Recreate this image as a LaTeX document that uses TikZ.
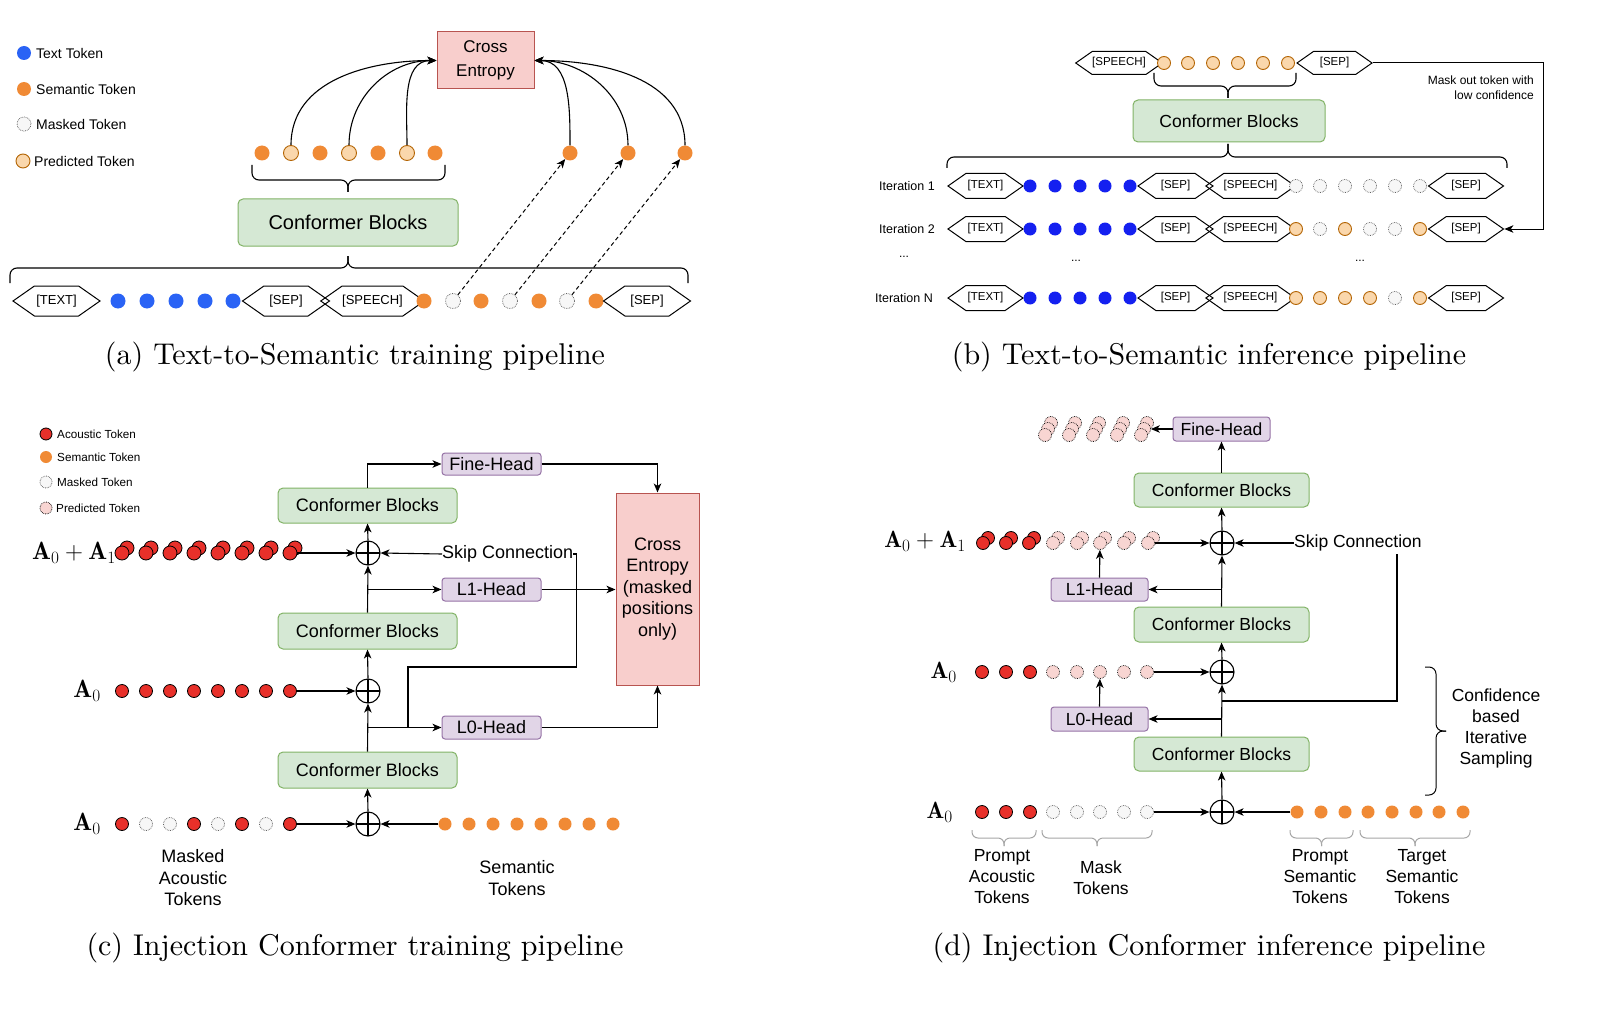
\documentclass[tikz,border=0pt]{standalone}
\usepackage{fontspec}
\newfontfamily\sff{Liberation Sans}
\newfontfamily\capfont{lmroman10-regular.otf}
\usetikzlibrary{arrows.meta,shapes.symbols}
\definecolor{cbfill}{HTML}{D5E8D4}
\definecolor{cbdraw}{HTML}{82B366}
\definecolor{cefill}{HTML}{F8CECC}
\definecolor{cedraw}{HTML}{B85450}
\definecolor{hdfill}{HTML}{E1D5E7}
\definecolor{hddraw}{HTML}{9673A6}
\definecolor{semor}{HTML}{F08A35}
\definecolor{predfill}{HTML}{FAD7AC}
\definecolor{preddraw}{HTML}{B46504}
\definecolor{blueA}{HTML}{2A63F5}
\definecolor{blueB}{HTML}{1420F0}
\definecolor{acred}{HTML}{E8302A}
\definecolor{pinkfill}{HTML}{F8D5D2}
\definecolor{maskfill}{HTML}{F7F7F7}
\definecolor{maskdraw}{HTML}{555555}
\definecolor{bracegray}{HTML}{A6A6A6}
\def\toksz{14pt}
\tikzset{
  fs/.style 2 args={font=\sff\fontsize{#1}{#2}\selectfont},
  ln/.style={line width=1.1pt},
  arr/.style={ln,-{Stealth[length=9pt,width=7.5pt,inset=2.5pt]}},
  tokbase/.style={circle,inner sep=0pt,minimum size=\toksz},
  TS/.style={tokbase,fill=semor},
  TP/.style={tokbase,fill=predfill,draw=preddraw,line width=0.9pt},
  TM/.style={tokbase,fill=maskfill,draw=maskdraw,densely dotted,line width=0.7pt},
  TB/.style={tokbase,fill=blueA},
  TBB/.style={tokbase,fill=blueB},
  TR/.style={tokbase,fill=acred,draw=black,line width=0.8pt},
  TK/.style={tokbase,fill=pinkfill,draw=black,densely dotted,line width=0.7pt},
  cblock/.style={draw=cbdraw,fill=cbfill,rounded corners=5pt,line width=1pt,inner sep=0pt},
  cebox/.style={draw=cedraw,fill=cefill,line width=1pt,inner sep=0pt,align=center},
  head/.style={draw=hddraw,fill=hdfill,rounded corners=3pt,line width=1pt,inner sep=0pt},
  hexbase/.style={signal,signal to=west and east,signal pointer angle=70,draw,line width=1pt,inner sep=0pt},
  hexA/.style={hexbase,minimum width=87pt,minimum height=30pt,fs={13}{15}},
  hexB/.style={hexbase,minimum width=75pt,minimum height=25pt,fs={11.5}{13}},
  oplus/.style={circle,draw,line width=1.1pt,minimum size=24pt,inner sep=0pt,
    path picture={\draw[line width=1.1pt] (path picture bounding box.north)--(path picture bounding box.south) (path picture bounding box.west)--(path picture bounding box.east);}},
  brc/.style={line width=1.1pt,rounded corners=7pt},
  captxt/.style={font=\capfont\fontsize{30}{36}\selectfont,inner sep=0pt},
}
\newcommand\bRow[3]{%
  \node[hexB] (#2T) at (985.5,#1) {[TEXT]};
  \foreach \x in {1030,1055,1080,1105,1130} \node[TBB] at (\x,#1) {};
  \node[hexB] (#2S) at (1175.5,#1) {[SEP]};
  \node[hexB] (#2P) at (1250.5,#1) {[SPEECH]};
  \foreach \x/\t in {#3} \node[\t] at (\x,#1) {};
  \node[hexB] (#2E) at (1466,#1) {[SEP]};
}
\begin{document}
\begin{tikzpicture}[x=1pt,y=-1pt]
\useasboundingbox[fill=white] (0,0) rectangle (1600,1011);

% ================= (a) =================
\def\toksz{14pt}
\node[TB] (lga1) at (24,53) {};
\node[fs={14}{16},anchor=west,inner sep=0pt] at (36,53) {Text Token};
\node[TS] (lga2) at (24,89) {};
\node[fs={14}{16},anchor=west,inner sep=0pt] at (36,89) {Semantic Token};
\node[TM] (lga3) at (24,124) {};
\node[fs={14}{16},anchor=west,inner sep=0pt] at (36,124) {Masked Token};
\node[TP] (lga4) at (23,161) {};
\node[fs={14}{16},anchor=west,inner sep=0pt] at (34,161) {Predicted Token};

\node[cebox,minimum width=97pt,minimum height=57pt,fs={17}{24}] (ace) at (485.5,60.5) {Cross\\Entropy};
\def\toksz{15pt}
\foreach \x/\t/\n in {262/TS/1,291/TP/2,320/TS/3,349/TP/4,378/TS/5,407/TP/6,435/TS/7}
  \node[\t] (at\n) at (\x,153) {};
\node[TS] (ar1) at (570,153) {};
\node[TS] (ar2) at (628,153) {};
\node[TS] (ar3) at (685,153) {};
\foreach \n in {2,4,6} \draw[arr] (at\n) to[out=90,in=180] (ace.west);
\foreach \n in {1,2,3} \draw[arr] (ar\n) to[out=90,in=0] (ace.east);

\draw[brc] (252,165) -- (252,180) -- (348,180) -- (348,192);
\draw[brc] (445,165) -- (445,180) -- (348,180) -- (348,192);
\node[cblock,minimum width=220pt,minimum height=47pt,fs={20}{24}] (acb) at (348,222.5) {Conformer Blocks};
\draw[brc] (10,283) -- (10,268) -- (348,268) -- (348,256);
\draw[brc] (688,283) -- (688,268) -- (348,268) -- (348,256);

\node[hexA] (aT) at (56.5,301) {[TEXT]};
\foreach \x in {118,147,176,205,233} \node[TB] at (\x,301) {};
\node[hexA] (aS1) at (286,301) {[SEP]};
\node[hexA] (aSp) at (372.5,301) {[SPEECH]};
\foreach \x/\t/\n in {424/TS/1,453/TM/2,481/TS/3,510/TM/4,539/TS/5,567/TM/6,596/TS/7}
  \node[\t] (ab\n) at (\x,301) {};
\node[hexA] (aS2) at (647,301) {[SEP]};
\draw[arr,line width=1pt,dash pattern=on 4pt off 3pt] (ab2) -- (ar1);
\draw[arr,line width=1pt,dash pattern=on 4pt off 3pt] (ab4) -- (ar2);
\draw[arr,line width=1pt,dash pattern=on 4pt off 3pt] (ab6) -- (ar3);
\node[captxt] (capa) at (355,357) {(a) Text-to-Semantic training pipeline};

% ================= (b) =================
\def\toksz{13pt}
\node[hexB,minimum height=23pt] (bSp) at (1119,63) {[SPEECH]};
\foreach \x [count=\i] in {1164,1188,1213,1238,1263,1288} \node[TP] (bp\i) at (\x,63) {};
\node[hexB,minimum height=23pt] (bSe) at (1334.5,63) {[SEP]};
\node[fs={12}{15},align=right,anchor=east,inner sep=0pt] (bmask) at (1534,87.5) {Mask out token with\\low confidence};
\draw[brc] (1154,73) -- (1154,86) -- (1228,86) -- (1228,98);
\draw[brc] (1296,73) -- (1296,86) -- (1228,86) -- (1228,98);
\node[cblock,minimum width=192pt,minimum height=42pt,fs={17.5}{21}] (bcb) at (1229,121) {Conformer Blocks};
\draw[brc] (947,168) -- (947,157) -- (1228,157) -- (1228,144);
\draw[brc] (1507,168) -- (1507,157) -- (1228,157) -- (1228,144);

\node[fs={12.5}{15},anchor=east,inner sep=0pt] (bl1) at (935,186) {Iteration 1};
\node[fs={12.5}{15},anchor=east,inner sep=0pt] (bl2) at (935,229) {Iteration 2};
\node[fs={12.5}{15},anchor=east,inner sep=0pt] (blN) at (933,298) {Iteration N};
\node[fs={12}{15},inner sep=0pt] at (904,257) {...};
\node[fs={12}{15},inner sep=0pt] at (1076,261) {...};
\node[fs={12}{15},inner sep=0pt] at (1360,261) {...};
\bRow{186}{bia}{1296/TM,1320/TM,1345/TM,1370/TM,1395/TM,1420/TM}
\bRow{229}{bib}{1296/TP,1320/TM,1345/TP,1370/TM,1395/TM,1420/TP}
\bRow{298}{bin}{1296/TP,1320/TP,1345/TP,1370/TP,1395/TM,1420/TP}
\coordinate (bturn) at (1543,229);
\draw[arr,line width=1pt] (bSe.east) -| (bturn) -- (bibE.east);
\node[captxt] (capb) at (1209,357) {(b) Text-to-Semantic inference pipeline};

% ================= (c) =================
\def\toksz{12pt}
\node[TR] (lgc1) at (46,434) {};
\node[fs={11.7}{14},anchor=west,inner sep=0pt] at (57,434) {Acoustic Token};
\node[TS] (lgc2) at (46,457) {};
\node[fs={11.7}{14},anchor=west,inner sep=0pt] at (57,457) {Semantic Token};
\node[TM] (lgc3) at (46,482) {};
\node[fs={11.7}{14},anchor=west,inner sep=0pt] at (57,482) {Masked Token};
\node[TK] (lgc4) at (46,508) {};
\node[fs={11.7}{14},anchor=west,inner sep=0pt] at (56,508) {Predicted Token};

\node[head,minimum width=99pt,minimum height=22pt,fs={18}{21}] (cfh) at (491.5,464) {Fine-Head};
\node[cblock,minimum width=179pt,minimum height=35pt,fs={18}{21}] (ccb1) at (367.5,505.5) {Conformer Blocks};
\node[cebox,minimum width=83pt,minimum height=192pt,fs={18}{21.5}] (cce) at (657.5,589) {Cross\\Entropy\\(masked\\positions\\only)};
\node[oplus] (cop1) at (368,553) {};
\node[font=\fontsize{25}{30}\selectfont,anchor=east,inner sep=0pt] (clab1) at (116,553) {$\mathbf{A}_0+\mathbf{A}_1$};
\def\toksz{14pt}
\foreach \x [count=\i] in {124,148,172,196,220,244,268,292} {
  \node[TR] at (\x+3,548) {};
  \node[TR] (c1\i) at (\x-2,553) {};
}
\node[fs={18}{21},anchor=west,inner sep=0pt] (cskip) at (442,554) {Skip Connection};
\node[head,minimum width=99pt,minimum height=23pt,fs={18}{21}] (cl1) at (491.5,589.5) {L1-Head};
\node[cblock,minimum width=179pt,minimum height=36pt,fs={18}{21}] (ccb2) at (367.5,631) {Conformer Blocks};
\node[oplus] (cop2) at (368,691) {};
\node[font=\fontsize{25}{30}\selectfont,anchor=east,inner sep=0pt] (clab2) at (101,691) {$\mathbf{A}_0$};
\def\toksz{13pt}
\foreach \x [count=\i] in {122,146,170,194,218,242,266,290} \node[TR] (c2\i) at (\x,691) {};
\node[head,minimum width=99pt,minimum height=23pt,fs={18}{21}] (cl0) at (491.5,727.5) {L0-Head};
\node[cblock,minimum width=179pt,minimum height=36pt,fs={18}{21}] (ccb3) at (367.5,770) {Conformer Blocks};
\node[oplus] (cop3) at (368,824) {};
\node[font=\fontsize{25}{30}\selectfont,anchor=east,inner sep=0pt] (clab3) at (101,824) {$\mathbf{A}_0$};
\foreach \x/\t [count=\i] in {122/TR,146/TM,170/TM,194/TR,218/TM,242/TR,266/TM,290/TR} \node[\t] (c3\i) at (\x,824) {};
\foreach \x [count=\i] in {445,469,493,517,541,565,589,613} \node[TS] (c4\i) at (\x,824) {};
\node[fs={18}{21.5},align=center] (cml) at (193,878) {Masked\\Acoustic\\Tokens};
\node[fs={18}{21.5},align=center] (csl) at (517,878) {Semantic\\Tokens};

\coordinate (cj1) at (408,667);
\coordinate (cj2) at (408,727);
\draw[arr] (ccb1.north) |- (cfh.west);
\draw[arr] (cfh.east) -| (cce.north);
\draw[arr] (cop1.north) -- (ccb1.south);
\draw[arr] (c18) -- (cop1.west);
\draw[arr] (cskip.west) -- (cop1.east);
\draw[ln] (cskip.east) -- ++(3,0) |- (cj1) -- (cj2);
\draw[arr] (ccb2.north) -- (cop1.south);
\draw[arr] (ccb2.north |- cl1.west) -- (cl1.west);
\draw[arr] (cl1.east) -- (cce.west |- cl1.east);
\draw[arr] (cop2.north) -- (ccb2.south);
\draw[arr] (c28) -- (cop2.west);
\draw[arr] (ccb3.north) -- (cop2.south);
\draw[arr] (ccb3.north |- cl0.west) -- (cl0.west);
\draw[arr] (cl0.east) -| (cce.south);
\draw[arr] (cop3.north) -- (ccb3.south);
\draw[arr] (c38) -- (cop3.west);
\draw[arr] (c41) -- (cop3.east);
\node[captxt] (capc) at (355,948) {(c) Injection Conformer training pipeline};

% ================= (d) =================
\node[head,minimum width=97pt,minimum height=24pt,fs={17.5}{21}] (dfh) at (1221.5,429) {Fine-Head};
\foreach \x [count=\i] in {1048,1072,1096,1120,1144} {
  \node[TK] at (\x+3,423) {};
  \node[TK] (ds\i) at (\x,429) {};
  \node[TK] at (\x-3,435) {};
}
\node[cblock,minimum width=175pt,minimum height=34pt,fs={17.5}{21}] (dcb1) at (1221.5,490) {Conformer Blocks};
\node[oplus] (dop1) at (1222,543) {};
\node[font=\fontsize{23.5}{28}\selectfont,anchor=east,inner sep=0pt] (dlab1) at (966,541) {$\mathbf{A}_0+\mathbf{A}_1$};
\foreach \x/\t [count=\i] in {985/TR,1008/TR,1031/TR,1055/TK,1079/TK,1102/TK,1126/TK,1150/TK} {
  \node[\t] at (\x+3,538) {};
  \node[\t] (d1\i) at (\x-2,543) {};
}
\node[fs={17.5}{21},anchor=west,inner sep=0pt] (dskip) at (1294,543) {Skip Connection};
\node[head,minimum width=97pt,minimum height=23pt,fs={17.5}{21}] (dl1) at (1099.5,589.5) {L1-Head};
\node[cblock,minimum width=175pt,minimum height=35pt,fs={17.5}{21}] (dcb2) at (1221.5,624.5) {Conformer Blocks};
\node[oplus] (dop2) at (1222,672) {};
\node[font=\fontsize{23.5}{28}\selectfont,anchor=east,inner sep=0pt] (dlab2) at (957,672) {$\mathbf{A}_0$};
\def\toksz{13pt}
\foreach \x/\t [count=\i] in {982/TR,1006/TR,1030/TR,1053/TK,1077/TK,1100/TK,1124/TK,1147/TK} \node[\t] (d2\i) at (\x,672) {};
\node[head,minimum width=97pt,minimum height=24pt,fs={17.5}{21}] (dl0) at (1099.5,719) {L0-Head};
\node[cblock,minimum width=175pt,minimum height=34pt,fs={17.5}{21}] (dcb3) at (1221.5,754) {Conformer Blocks};
\node[oplus] (dop3) at (1222,812) {};
\node[font=\fontsize{23.5}{28}\selectfont,anchor=east,inner sep=0pt] (dlab3) at (953,812) {$\mathbf{A}_0$};
\foreach \x/\t [count=\i] in {982/TR,1006/TR,1030/TR,1053/TM,1077/TM,1100/TM,1124/TM,1147/TM} \node[\t] (d3\i) at (\x,812) {};
\foreach \x [count=\i] in {1297,1321,1345,1368,1392,1416,1439,1463} \node[TS] (d4\i) at (\x,812) {};

\coordinate (dsk1) at (1397,554);
\coordinate (dsk2) at (1222,701);
\draw[arr] (dcb1.north) -- (dfh.south);
\draw[arr] (dfh.west) -- (ds5);
\draw[arr] (dop1.north) -- (dcb1.south);
\draw[arr] (d18) -- (dop1.west);
\draw[arr] (dskip.west) -- (dop1.east);
\draw[ln] (dsk1) |- (dsk2);
\draw[arr] (dcb2.north) -- (dop1.south);
\draw[arr] (dcb2.north |- dl1.east) -- (dl1.east);
\draw[arr] (dl1.north) -- (d16);
\draw[arr] (dop2.north) -- (dcb2.south);
\draw[arr] (d28) -- (dop2.west);
\draw[arr] (dcb3.north) -- (dop2.south);
\draw[arr] (dcb3.north |- dl0.east) -- (dl0.east);
\draw[arr] (dl0.north) -- (d26);
\draw[arr] (dop3.north) -- (dcb3.south);
\draw[arr] (d38) -- (dop3.west);
\draw[arr] (d41) -- (dop3.east);

\foreach \a/\b in {972/1036,1042/1152,1290/1353,1360/1470} {
  \draw[brc,draw=bracegray,line width=1pt,rounded corners=6pt] (\a,830) -- (\a,838) -- ({(\a+\b)/2},838) -- ({(\a+\b)/2},846);
  \draw[brc,draw=bracegray,line width=1pt,rounded corners=6pt] (\b,830) -- (\b,838) -- ({(\a+\b)/2},838) -- ({(\a+\b)/2},846);
}
\node[fs={17.5}{21},align=center] (dpa) at (1002,877) {Prompt\\Acoustic\\Tokens};
\node[fs={17.5}{21},align=center] (dmt) at (1101,878) {Mask\\Tokens};
\node[fs={17.5}{21},align=center] (dps) at (1320,877) {Prompt\\Semantic\\Tokens};
\node[fs={17.5}{21},align=center] (dts) at (1422,877) {Target\\Semantic\\Tokens};

\draw[brc,line width=1pt] (1425,667) -- (1436,667) -- (1436,731) -- (1446,731);
\draw[brc,line width=1pt] (1425,795) -- (1436,795) -- (1436,731) -- (1446,731);
\node[fs={17.5}{21},align=center] (dconf) at (1496,728) {Confidence\\based\\Iterative\\Sampling};
\node[captxt] (capd) at (1209,948) {(d) Injection Conformer inference pipeline};
\end{tikzpicture}
\end{document}
